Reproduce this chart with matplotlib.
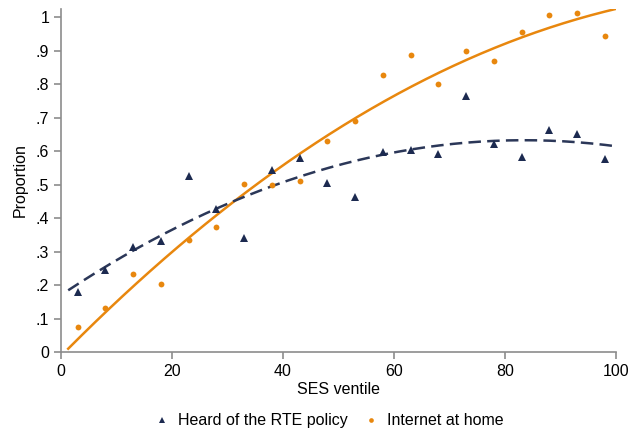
import numpy as np
import matplotlib
matplotlib.use("Agg")
import matplotlib.pyplot as plt

plt.rcParams['font.family'] = ['Liberation Sans', 'DejaVu Sans']

# ventile midpoints and the two shares per ventile
ventile = [3, 8, 13, 18, 23, 28, 33, 38, 43, 48, 53, 58, 63, 68, 73, 78, 83, 88, 93, 98]
heard_rte = [.180, .245, .314, .332, .525, .426, .339, .543, .578, .505,
             .464, .598, .603, .592, .765, .621, .581, .664, .651, .576]
internet = [.076, .131, .232, .204, .334, .373, .503, .500, .510, .630,
            .690, .826, .886, .800, .898, .870, .957, 1.005, 1.012, .944]

navy = '#1c2a50'
orange = '#e8870e'
grey = '#8c8c8c'

fig = plt.figure(figsize=(6.4, 4.33), dpi=100)
ax = fig.add_axes([0.0953, 0.187, 0.867, 0.792])

# quadratic fits
xs = np.linspace(1.3, 100, 200)
c_heard = np.polyfit(ventile, heard_rte, 2)
c_net = np.polyfit(ventile, internet, 2)
ax.plot(xs, np.polyval(c_net, xs), color=orange, lw=1.8, zorder=2)
ax.plot(xs, np.polyval(c_heard, xs), color='#2b3758', lw=1.8,
        dashes=(5, 2.5), zorder=2)

ax.plot(ventile, heard_rte, '^', color=navy, ms=5.5, mew=0, zorder=3,
        label='Heard of the RTE policy')
ax.plot(ventile, internet, 'o', color=orange, ms=4.2, mew=0, zorder=3,
        label='Internet at home')

ax.set_xlim(0, 100)
ax.set_ylim(0, 1.024)
ax.set_xticks([0, 20, 40, 60, 80, 100])
ax.set_yticks(np.arange(0, 1.01, 0.1))
ax.set_yticklabels(['0', '.1', '.2', '.3', '.4', '.5', '.6', '.7', '.8', '.9', '1'])

for s in ['top', 'right']:
    ax.spines[s].set_visible(False)
for s in ['left', 'bottom']:
    ax.spines[s].set_color(grey)
    ax.spines[s].set_linewidth(1.2)
ax.tick_params(colors=grey, labelcolor='black', labelsize=11.5, length=5, width=1.2)

ax.set_xlabel('SES ventile', fontsize=11.5, labelpad=2)
ax.set_ylabel('Proportion', fontsize=11.5, labelpad=6)

fig.legend(loc='lower center', bbox_to_anchor=(0.515, -0.022), ncol=2, frameon=False,
           fontsize=11.5, handlelength=0.8, handletextpad=0.6, columnspacing=1.0,
           markerscale=0.8)

fig.savefig('out.png', dpi=100)
